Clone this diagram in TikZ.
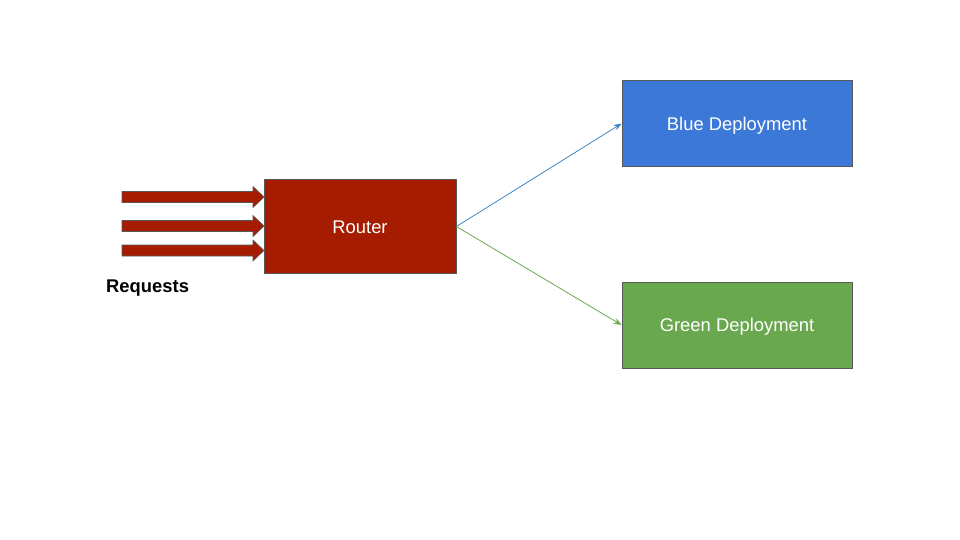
\documentclass[tikz,border=0pt]{standalone}
\usepackage{fontspec}
\setmainfont{Liberation Sans}
\usetikzlibrary{arrows.meta}
\definecolor{routerred}{HTML}{A61C00}
\definecolor{bluebox}{HTML}{3C78D8}
\definecolor{greenbox}{HTML}{6AA84F}
\definecolor{blueline}{HTML}{3D85C6}
\definecolor{greenline}{HTML}{6AA84F}
\definecolor{edgegrey}{HTML}{595959}
\tikzset{
  box/.style={draw=edgegrey, line width=0.8pt, text=white, inner sep=0pt,
    text height=13.2pt, text depth=0pt,
    font=\fontsize{18.4}{22}\selectfont},
  reqarrow/.style={draw=edgegrey, line width=0.6pt, fill=routerred},
  conn/.style={line width=0.8pt, -{Stealth[length=8pt,width=6pt]}}
}
\begin{document}
\begin{tikzpicture}[x=1pt,y=-1pt]
\useasboundingbox (0,0) rectangle (960,540);
\node[box, fill=routerred, minimum width=192pt, minimum height=94pt] (router) at (360,226.5) {Router};
\node[box, fill=bluebox, minimum width=230pt, minimum height=86pt] (blue) at (737,123.5) {Blue Deployment};
\node[box, fill=greenbox, minimum width=230pt, minimum height=86pt] (green) at (737,325) {Green Deployment};
% request arrows
\foreach \yy/\nm in {197/a1,226/a2,250.5/a3}{
  \draw[reqarrow] (122,\yy-5.5) -- (253,\yy-5.5) -- (253,\yy-10.5) -- (264,\yy)
     -- (253,\yy+10.5) -- (253,\yy+5.5) -- (122,\yy+5.5) -- cycle;
}
\node[font=\bfseries\fontsize{18.4}{22}\selectfont, anchor=base west, inner sep=0pt] (req) at (106,292.5) {Requests};
\draw[conn, blueline] (router.east) -- (blue.west);
\draw[conn, greenline] (router.east) -- (green.west);
\end{tikzpicture}
\end{document}
